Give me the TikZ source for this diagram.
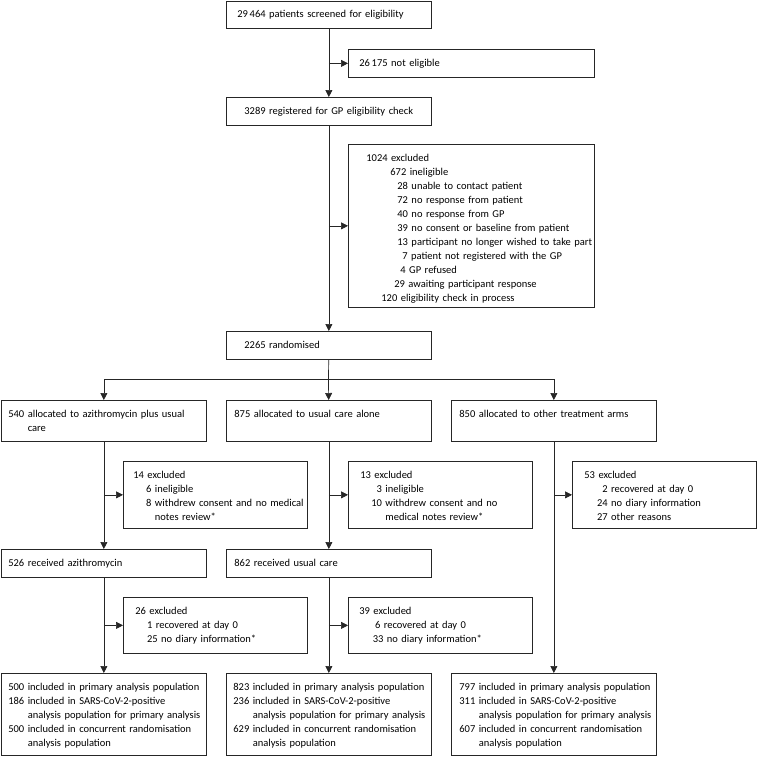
\documentclass[tikz,border=0pt]{standalone}
\usepackage{fontspec}
\setmainfont{Carlito}
\usetikzlibrary{arrows.meta}

\begin{document}
\begin{tikzpicture}[
    x=1pt, y=-1pt,
    box/.style n args={3}{draw=black!85, line width=0.7pt, anchor=north west,
      inner sep=0pt, align=left, text width=#1pt, text height=17pt,
      text depth=#2pt,
      execute at begin node={\leftskip=#3pt\relax
        \rightskip=0pt plus 1fil minus 40pt\relax\hyphenpenalty=10000\relax},
      font=\fontsize{10.5}{14}\selectfont},
    arr/.style={-{Triangle[length=7pt,width=7pt]}, line width=0.7pt, draw=black!85}
  ]
    \useasboundingbox (0,0) rectangle (757,756);

    % screening
    \node[box={205}{10.5}{11}] (scr) at (226,0.5) {29\,464 patients screened for eligibility};
    \node[box={246}{11}{11}] (noel) at (348,49) {26\,175 not eligible};
    \node[box={205}{11}{18}] (reg) at (226,97) {3289 registered for GP eligibility check};
    \node[box={246}{146}{18}] (excl) at (348,144) {1024 excluded\\
      \hspace*{24pt}672 ineligible\\
      \hspace*{31pt}28 unable to contact patient\\
      \hspace*{31pt}72 no response from patient\\
      \hspace*{31pt}40 no response from GP\\
      \hspace*{31pt}39 no consent or baseline from patient\\
      \hspace*{31pt}13 participant no longer wished to take part\\
      \hspace*{36pt}7 patient not registered with the GP\\
      \hspace*{34pt}4 GP refused\\
      \hspace*{28pt}29 awaiting participant response\\
      \hspace*{15pt}120 eligibility check in process};
    \node[box={205}{11}{18}] (rand) at (226,331) {2265 randomised};

    % allocation
    \node[box={205}{24}{7}] (azi) at (1,400) {540 allocated to azithromycin plus usual\\
      \phantom{540 }care};
    \node[box={205}{24}{8}] (usual) at (226,400) {875 allocated to usual care alone};
    \node[box={205}{24}{8}] (other) at (451,400) {850 allocated to other treatment arms};

    \node[box={184}{50}{10}] (exazi) at (123,461) {14 excluded\\
      \hspace*{12.7pt}6 ineligible\\
      \hspace*{12.7pt}8 withdrew consent and no medical\\
      \hspace*{12.7pt}\phantom{8 }notes review*};
    \node[box={184}{50}{12}] (exusual) at (348,461) {13 excluded\\
      \hspace*{11pt}\phantom{1}3 ineligible\\
      \hspace*{11pt}10 withdrew consent and no\\
      \hspace*{11pt}\phantom{10 }medical notes review*};
    \node[box={184}{50}{12}] (exother) at (572,461) {53 excluded\\
      \hspace*{12.7pt}\phantom{2}2 recovered at day 0\\
      \hspace*{12.7pt}24 no diary information\\
      \hspace*{12.7pt}27 other reasons};

    % follow-up
    \node[box={205}{11}{7}] (recazi) at (1,549) {526 received azithromycin};
    \node[box={205}{11}{8}] (recusual) at (226,549) {862 received usual care};
    \node[box={184}{39}{12}] (lossazi) at (123,597) {26 excluded\\
      \hspace*{11.7pt}1 recovered at day 0\\
      \hspace*{11.7pt}25 no diary information*};
    \node[box={184}{39}{11}] (lossusual) at (348,597) {39 excluded\\
      \hspace*{15.7pt}6 recovered at day 0\\
      \hspace*{13.4pt}33 no diary information*};

    % analysis
    \node[box={205}{65}{7}] (popazi) at (1,673) {500 included in primary analysis population\\
      186 included in SARS-CoV-2-positive\\
      \phantom{186 }analysis population for primary analysis\\
      500 included in concurrent randomisation\\
      \phantom{500 }analysis population};
    \node[box={205}{65}{7}] (popusual) at (226,673) {823 included in primary analysis population\\
      236 included in SARS-CoV-2-positive\\
      \phantom{236 }analysis population for primary analysis\\
      629 included in concurrent randomisation\\
      \phantom{629 }analysis population};
    \node[box={205}{65}{8}] (popother) at (451,673) {797 included in primary analysis population\\
      311 included in SARS-CoV-2-positive\\
      \phantom{311 }analysis population for primary analysis\\
      607 included in concurrent randomisation\\
      \phantom{607 }analysis population};

    % connectors
    \draw[arr] (scr) -- (reg);
    \draw[arr] (scr.south |- noel.west) -- (noel.west);
    \draw[arr] (reg) -- (rand);
    \draw[arr] (reg.south |- excl.west) -- (excl.west);
    \coordinate (split) at (328.5,379);
    \draw[line width=0.7pt, draw=black!85] (rand) -- (split);
    \draw[arr] (split) -| (azi);
    \draw[arr] (split) -- (usual);
    \draw[arr] (split) -| (other);

    \draw[arr] (azi) -- (recazi);
    \draw[arr] (azi.south |- exazi.west) -- (exazi.west);
    \draw[arr] (usual) -- (recusual);
    \draw[arr] (usual.south |- exusual.west) -- (exusual.west);
    \draw[arr] (other) -- (popother);
    \draw[arr] (other.south |- exother.west) -- (exother.west);

    \draw[arr] (recazi) -- (popazi);
    \draw[arr] (recazi.south |- lossazi.west) -- (lossazi.west);
    \draw[arr] (recusual) -- (popusual);
    \draw[arr] (recusual.south |- lossusual.west) -- (lossusual.west);
  \end{tikzpicture}
\end{document}
